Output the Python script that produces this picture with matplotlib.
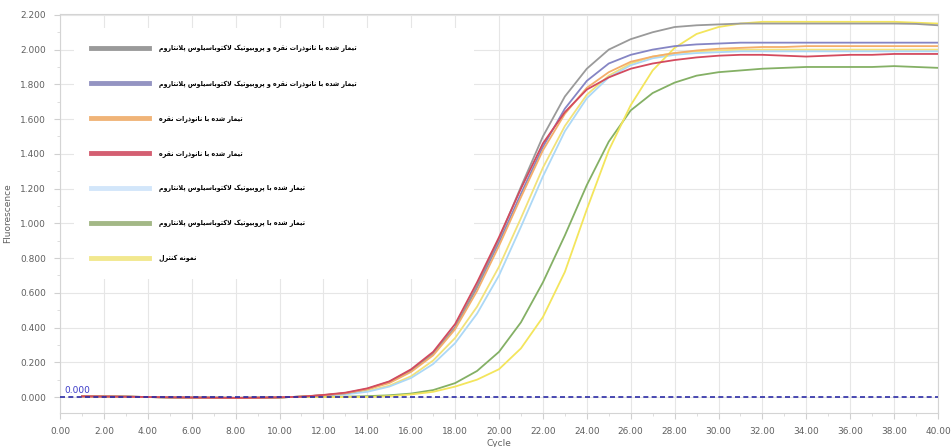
"""qPCR amplification curves (fluorescence vs cycle) with Persian legend."""
import matplotlib
matplotlib.use("Agg")
import matplotlib.pyplot as plt
from matplotlib.lines import Line2D
from matplotlib.ticker import MultipleLocator, FormatStrFormatter

# ---- data ----
cycles = list(range(1, 41))

base = [0.004, 0.003, 0.002, 0.0, -0.002, -0.003, -0.004, -0.005, -0.004, -0.002, 0.002]

red = base + [0.012, 0.025, 0.05, 0.09, 0.16, 0.26, 0.42, 0.66, 0.92, 1.20, 1.46, 1.64,
              1.77, 1.84, 1.89, 1.92, 1.94, 1.955, 1.965, 1.97, 1.97, 1.965, 1.96, 1.965,
              1.97, 1.97, 1.975, 1.975, 1.975]
gray = base + [0.011, 0.023, 0.047, 0.088, 0.155, 0.25, 0.40, 0.64, 0.91, 1.21, 1.50, 1.73,
               1.89, 2.00, 2.06, 2.10, 2.13, 2.14, 2.145, 2.15, 2.15, 2.15, 2.15, 2.15,
               2.15, 2.15, 2.15, 2.148, 2.14]
purple = base + [0.010, 0.021, 0.045, 0.085, 0.15, 0.25, 0.40, 0.63, 0.89, 1.17, 1.44, 1.66,
                 1.82, 1.92, 1.97, 2.00, 2.02, 2.03, 2.035, 2.04, 2.04, 2.04, 2.04, 2.04,
                 2.04, 2.04, 2.04, 2.04, 2.04]
orange = base + [0.010, 0.022, 0.045, 0.08, 0.145, 0.24, 0.39, 0.61, 0.87, 1.15, 1.42, 1.63,
                 1.78, 1.87, 1.93, 1.96, 1.98, 1.995, 2.005, 2.01, 2.015, 2.015, 2.02, 2.02,
                 2.02, 2.02, 2.02, 2.02, 2.02]
yellow2 = base + [0.008, 0.018, 0.035, 0.065, 0.12, 0.21, 0.34, 0.52, 0.75, 1.03, 1.32, 1.56,
                  1.74, 1.85, 1.92, 1.96, 1.98, 1.99, 1.995, 2.0, 2.0, 2.0, 2.0, 2.0,
                  2.0, 2.0, 2.0, 2.0, 2.0]
lightblue = base + [0.007, 0.015, 0.03, 0.06, 0.11, 0.19, 0.31, 0.48, 0.70, 0.98, 1.27, 1.53,
                    1.72, 1.84, 1.91, 1.95, 1.97, 1.98, 1.985, 1.99, 1.99, 1.99, 1.99, 1.99,
                    1.99, 1.99, 1.99, 1.99, 1.99]
green = base + [0.0, 0.002, 0.005, 0.01, 0.02, 0.04, 0.08, 0.15, 0.26, 0.43, 0.66, 0.93,
                1.22, 1.47, 1.65, 1.75, 1.81, 1.85, 1.87, 1.88, 1.89, 1.895, 1.90, 1.90,
                1.90, 1.90, 1.905, 1.90, 1.895]
control = base + [0.0, 0.0, 0.0, 0.005, 0.015, 0.03, 0.06, 0.10, 0.16, 0.28, 0.46, 0.72,
                  1.08, 1.42, 1.68, 1.88, 2.01, 2.09, 2.13, 2.15, 2.16, 2.16, 2.16, 2.16,
                  2.16, 2.16, 2.16, 2.155, 2.15]

threshold = 0.0

lbl_both = "تیمار شده با نانوذرات نقره و پروبیوتیک لاکتوباسیلوس پلانتاروم"
lbl_silver = "تیمار شده با نانوذرات نقره"
lbl_probio = "تیمار شده با پروبیوتیک لاکتوباسیلوس پلانتاروم"
lbl_control = "نمونه کنترل"

# ---- minimal Arabic/Persian shaping (matplotlib has no complex text layout) ----
FORMS = {
    "ا": (0xFE8D, 0xFE8E, None, None),
    "ب": (0xFE8F, 0xFE90, 0xFE91, 0xFE92),
    "پ": (0xFB56, 0xFB57, 0xFB58, 0xFB59),
    "ت": (0xFE95, 0xFE96, 0xFE97, 0xFE98),
    "د": (0xFEA9, 0xFEAA, None, None),
    "ذ": (0xFEAB, 0xFEAC, None, None),
    "ر": (0xFEAD, 0xFEAE, None, None),
    "س": (0xFEB1, 0xFEB2, 0xFEB3, 0xFEB4),
    "ش": (0xFEB5, 0xFEB6, 0xFEB7, 0xFEB8),
    "ق": (0xFED5, 0xFED6, 0xFED7, 0xFED8),
    "ک": (0xFB8E, 0xFB8F, 0xFB90, 0xFB91),
    "ل": (0xFEDD, 0xFEDE, 0xFEDF, 0xFEE0),
    "م": (0xFEE1, 0xFEE2, 0xFEE3, 0xFEE4),
    "ن": (0xFEE5, 0xFEE6, 0xFEE7, 0xFEE8),
    "و": (0xFEED, 0xFEEE, None, None),
    "ه": (0xFEE9, 0xFEEA, 0xFEEB, 0xFEEC),
    "ی": (0xFBFC, 0xFBFD, 0xFBFE, 0xFBFF),
}


def _dual(ch):
    return ch in FORMS and FORMS[ch][2] is not None


def shape(text):
    out = []
    i = 0
    n = len(text)
    while i < n:
        ch = text[i]
        if ch not in FORMS:
            out.append(ch)
            i += 1
            continue
        prev = text[i - 1] if i > 0 else ""
        joins_prev = _dual(prev)
        # lam + alef ligature
        if ch == "ل" and i + 1 < n and text[i + 1] == "ا":
            out.append(chr(0xFEFC if joins_prev else 0xFEFB))
            i += 2
            continue
        nxt = text[i + 1] if i + 1 < n else ""
        joins_next = _dual(ch) and nxt in FORMS
        iso, fin, ini, med = FORMS[ch]
        if joins_prev and joins_next:
            out.append(chr(med))
        elif joins_prev:
            out.append(chr(fin))
        elif joins_next:
            out.append(chr(ini))
        else:
            out.append(chr(iso))
        i += 1
    return "".join(reversed(out))


# ---- figure ----
fig = plt.figure(figsize=(9.51, 4.47), dpi=100)
ax = fig.add_axes([60 / 951, 34 / 447, 878 / 951, 399 / 447])

series = [
    (yellow2, "#f2e27a"),
    (lightblue, "#acd8f6"),
    (green, "#84b065"),
    (control, "#f3e55c"),
    (purple, "#8585c4"),
    (gray, "#9a9a9a"),
    (orange, "#f4ae6a"),
    (red, "#d34a5e"),
]
for vals, col in series:
    ax.plot(cycles, vals, color=col, lw=1.3, zorder=3)

ax.axhline(threshold, color="#2b2ba6", lw=1.2, ls=(0, (3, 2)), zorder=4)
ax.text(0.2, threshold + 0.012, f"{threshold:.3f}", color="#3a3ac8", fontsize=6.5,
        ha="left", va="bottom", zorder=5)

ax.set_xlim(0, 40)
ax.set_ylim(-0.092, 2.205)
ax.xaxis.set_major_locator(MultipleLocator(2))
ax.xaxis.set_minor_locator(MultipleLocator(1))
ax.yaxis.set_major_locator(MultipleLocator(0.2))
ax.yaxis.set_minor_locator(MultipleLocator(0.1))
ax.xaxis.set_major_formatter(FormatStrFormatter("%.2f"))
ax.yaxis.set_major_formatter(FormatStrFormatter("%.3f"))
ax.tick_params(which="major", length=4, color="#d0d0d0", labelsize=6.5,
               labelcolor="#606060", pad=6)
ax.tick_params(which="minor", length=2, color="#d8d8d8")
ax.grid(True, which="major", color="#e6e6e6", lw=0.8, zorder=0)
for sp in ax.spines.values():
    sp.set_color("#d4d4d4")
    sp.set_linewidth(0.8)

ax.set_xlabel("Cycle", fontsize=6.5, color="#606060", labelpad=2)
ax.set_ylabel("Fluorescence", fontsize=6.5, color="#606060")
ax.yaxis.set_label_coords(-0.054, 0.5)

legend_items = [
    (lbl_both, "#9a9a9a"),
    (lbl_both, "#9494c2"),
    (lbl_silver, "#f0b478"),
    (lbl_silver, "#d45f72"),
    (lbl_probio, "#d2e6fa"),
    (lbl_probio, "#a3b886"),
    (lbl_control, "#f2e88e"),
]
handles = [Line2D([], [], color=c, lw=3.5) for _, c in legend_items]
labels = [shape(t) for t, _ in legend_items]
leg = ax.legend(handles, labels, loc="upper left",
                bbox_to_anchor=(0.0155, 0.353, 0.456, 0.612), mode="expand",
                frameon=True, facecolor="white", edgecolor="none", framealpha=1,
                fancybox=False, fontsize=5, handlelength=8.4, handletextpad=1.4,
                labelspacing=4.0, borderpad=2.45, borderaxespad=0)
leg.set_zorder(2)
for t in leg.get_texts():
    t.set_fontweight("bold")
    t.set_family(["DejaVu Sans"])
    t.set_fontstretch("condensed")

fig.savefig("out.png", dpi=100)
